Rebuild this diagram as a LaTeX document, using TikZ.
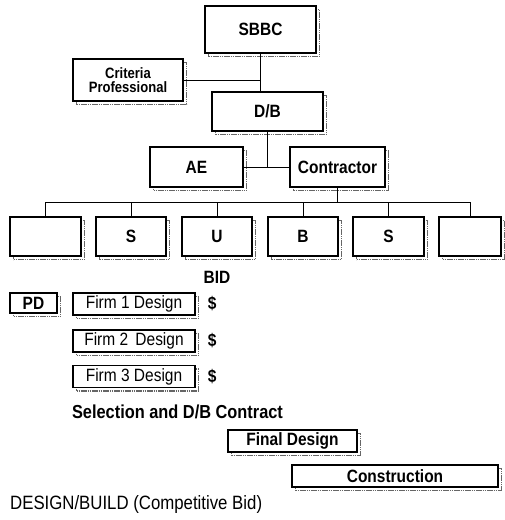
\documentclass[tikz,border=0pt]{standalone}
\usepackage{fontspec}
\setmainfont{Liberation Sans}[FakeStretch=0.87]
\usetikzlibrary{calc,positioning,shadows}
\tikzset{
  box/.style={draw,line width=1.5pt,fill=white,inner sep=0pt,align=center,
    font=\fontsize{17.8}{13}\selectfont\bfseries,
    general shadow={draw=black!60,line width=1.3pt,dash pattern=on 1.6pt off 0.6pt,
      shadow xshift=3.5pt,shadow yshift=-3.5pt}},
  orgbox/.style={box,minimum width=#1,minimum height=39pt},
  barbox/.style={box,minimum width=#1,minimum height=22pt},
  link/.style={line width=0.9pt},
  lbl/.style={inner sep=0pt,font=\fontsize{17.8}{16}\selectfont\bfseries}
}
\begin{document}
\begin{tikzpicture}[x=1pt,y=-1pt]
\useasboundingbox (0,0) rectangle (505,520);
% organisation chart
\node[orgbox=111pt,minimum height=47pt] (sbbc) at (260.5,29.5) {SBBC};
\node[orgbox=110pt,minimum height=42pt,font=\fontsize{15}{14.5}\selectfont\bfseries] (crit) at (128,80) {Criteria\\Professional};
\node[orgbox=111pt] (db) at (267.5,111.5) {D/B};
\node[orgbox=93pt,minimum height=40pt] (ae) at (196.5,167) {AE};
\node[orgbox=95pt,minimum height=40pt] (con) at (337.5,167) {Contractor};
\draw[link] (sbbc.south) -- (sbbc.south |- db.north);
\draw[link] (crit.east) -- (crit.east -| sbbc.south);
\draw[link] (ae.east) -- (con.west);
\draw[link] (db.south) -- (db.south |- ae.east);
% bid team
\node[orgbox=71pt] (t1) at (45.5,236.5) {};
\node[orgbox=70pt] (t2) at (131,236.5) {S};
\node[orgbox=70pt] (t3) at (217,236.5) {U};
\node[orgbox=70pt] (t4) at (303,236.5) {B};
\node[orgbox=71pt] (t5) at (388.5,236.5) {S};
\node[orgbox=62pt] (t6) at (470,236.5) {};
\coordinate (bus) at (0,202);
\draw[link] (t1.north |- bus) -- (t6.north |- bus);
\draw[link] (con.south) -- (con.south |- bus);
\foreach \t in {t1,t2,t3,t4,t5,t6}
  \draw[link] (\t.north) -- (\t.north |- bus);
\node[lbl] (bid) at (217,277) {BID};
% competing designs
\node[barbox=47pt,minimum height=20pt] (pd) at (33.5,303) {PD};
\node[barbox=122pt,font=\fontsize{17.8}{16}\selectfont] (f1) at (134,304) {Firm 1 Design};
\node[barbox=122pt,font=\fontsize{17.8}{16}\selectfont] (f2) at (134,341) {Firm 2\ \,Design};
\node[barbox=122pt,font=\fontsize{17.8}{16}\selectfont] (f3) at (134,376.5) {Firm 3 Design};
\foreach \f in {f1,f2,f3}
  \node[lbl,right=12pt of \f.east] (\f d) {\$};
\node[lbl,font=\fontsize{18.8}{17}\selectfont\bfseries] (sel) at (177.5,412) {Selection and D/B Contract};
% final design and construction
\node[barbox=129pt] (fd) at (292.5,441) {Final Design};
\node[barbox=206pt] (cons) at (395,476) {Construction};
\node[inner sep=0pt,anchor=west,font=\fontsize{19.3}{18}\selectfont] (title) at (10,505) {DESIGN/BUILD (Competitive Bid)};
\end{tikzpicture}
\end{document}
